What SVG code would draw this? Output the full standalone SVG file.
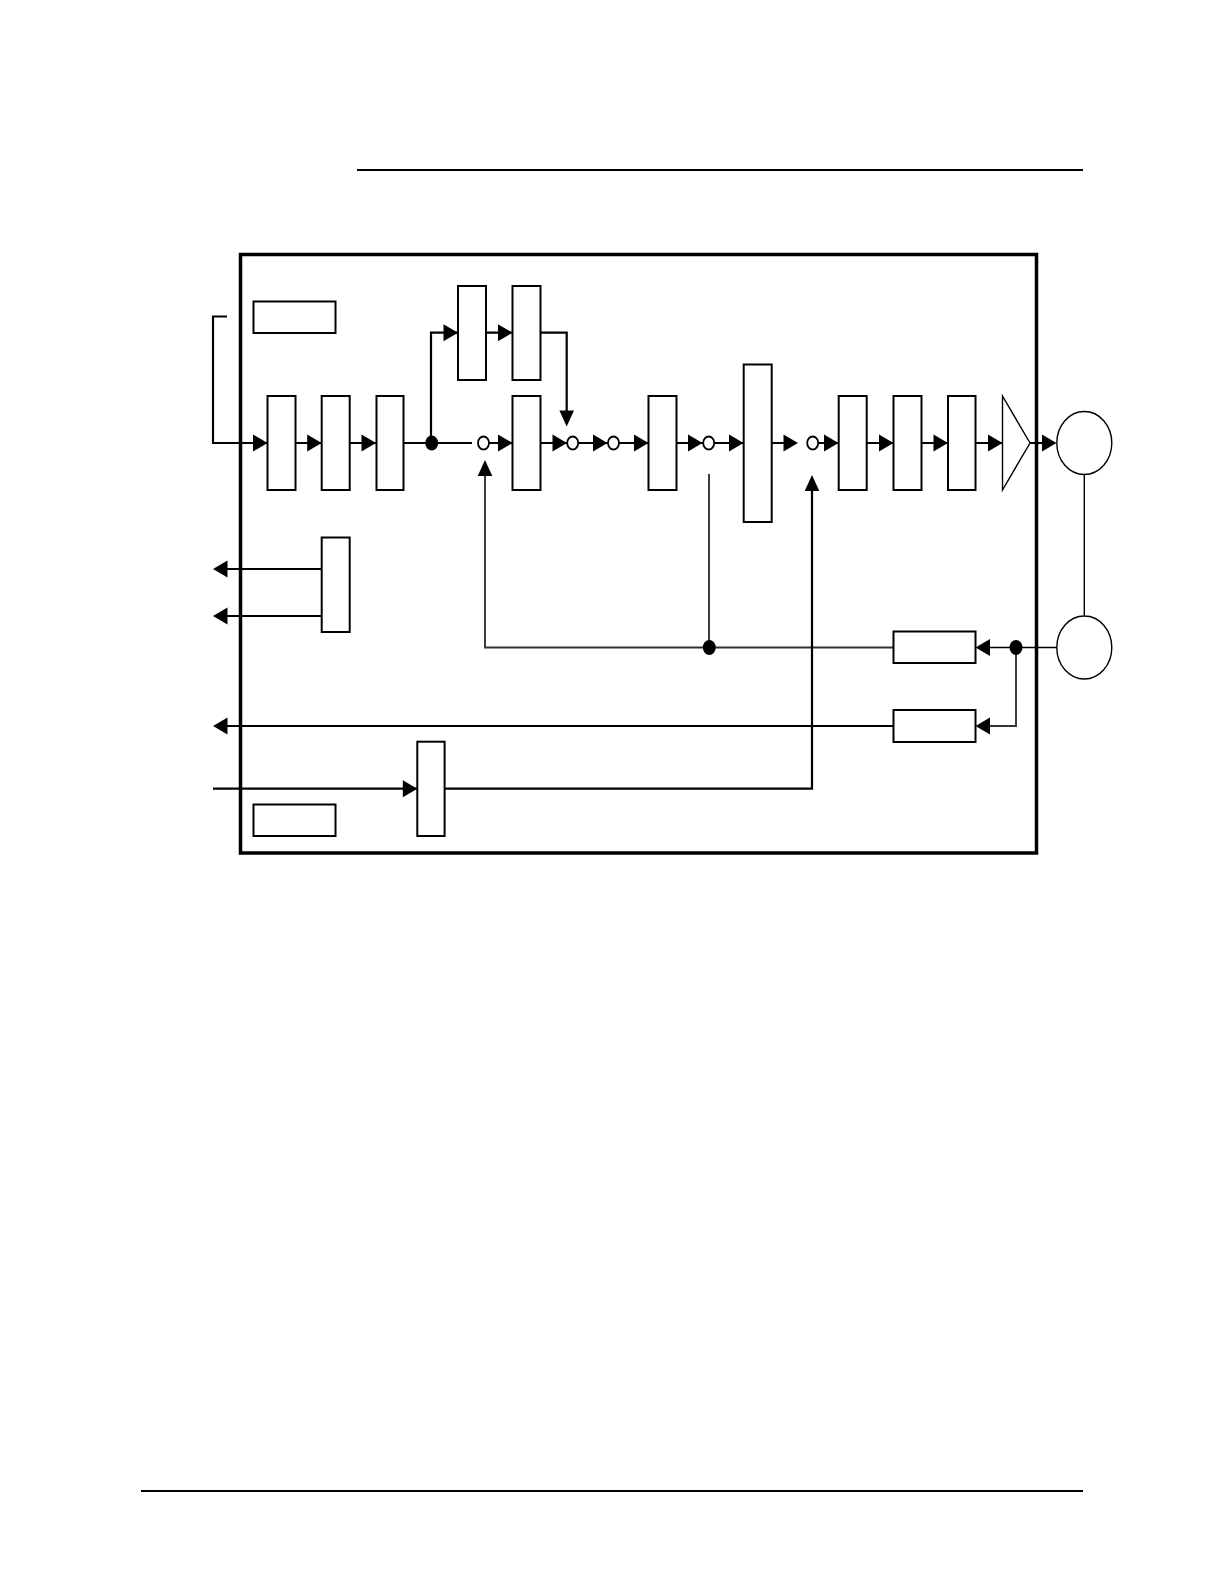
<svg xmlns="http://www.w3.org/2000/svg" width="1224" height="1584" viewBox="0 0 1224 1584">
<style>
.b{fill:#fff;stroke:#000;stroke-width:2}
.w{fill:none;stroke:#000;stroke-width:2.2}
.t{fill:none;stroke:#000;stroke-width:1.4}
.g{fill:none;stroke:#333;stroke-width:1.9}
.c{fill:#fff;stroke:#000;stroke-width:1.8}
.p{fill:#fff;stroke:#000;stroke-width:1.4}
.a{fill:#000}
</style>
<defs>
<path id="ar" class="a" d="M-14.500 -8.500L0 0L-14.500 8.500Z"/>
<path id="av" class="a" d="M-16 -7.300L0 0L-16 7.300Z"/>
</defs>
<rect width="1224" height="1584" fill="#fff"/>
<g id="rules">
<path d="M357 170H1083" stroke="#000" stroke-width="2"/>
<path d="M141 1491H1083" stroke="#000" stroke-width="2.200"/>
</g>
<rect id="frame" x="240.500" y="254.500" width="796" height="598.500" fill="none" stroke="#000" stroke-width="3.500"/>
<g id="connectors">
<path class="w" d="M227 316.500H213V443H267"/>
<path class="w" d="M295 443H322M349 443H377M403 443H472M431 443V332.700H458M485 332.700H513M540 332.700H566.700V412"/>
<path class="w" d="M489 443H513M540 443H567M578 443H608M619 443H648M676 443H703M714 443H744M771 443H790M818 443H839M866 443H894M921 443H948M975 443H1002M1030 443H1046"/>
<path class="t" d="M1084.300 474.500V616"/>
<path class="g" d="M709 474V647.500"/>
<path class="g" d="M485 475V647.500H893"/>
<path class="w" d="M812 489V788.700H444"/>
<path class="w" d="M417 788.700H213"/>
<path class="w" d="M322 569H226M322 616H226"/>
<path class="w" d="M893 726H226"/>
<path class="t" d="M988 647.500H1057"/>
<path class="g" d="M1016 647.500V726H988"/>
<use href="#ar" x="267.500" y="443"/>
<use href="#ar" x="321.700" y="443"/>
<use href="#ar" x="376" y="443"/>
<use href="#ar" x="458" y="332.700"/>
<use href="#ar" x="512.500" y="332.700"/>
<use href="#ar" x="512.500" y="443"/>
<use href="#ar" x="567" y="443"/>
<use href="#ar" x="607.500" y="443"/>
<use href="#ar" x="648.500" y="443"/>
<use href="#ar" x="702.500" y="443"/>
<use href="#ar" x="743.500" y="443"/>
<use href="#ar" x="798" y="443"/>
<use href="#ar" x="838.500" y="443"/>
<use href="#ar" x="893.500" y="443"/>
<use href="#ar" x="948" y="443"/>
<use href="#ar" x="1002.500" y="443"/>
<use href="#ar" x="1056.500" y="443"/>
<use href="#ar" x="417.300" y="788.700"/>
<use href="#av" transform="translate(566.700 426.500) rotate(90)"/>
<use href="#av" transform="translate(485 460) rotate(-90)"/>
<use href="#av" transform="translate(812 475) rotate(-90)"/>
<use href="#ar" transform="translate(213 569) rotate(180)"/>
<use href="#ar" transform="translate(213 616) rotate(180)"/>
<use href="#ar" transform="translate(213 726) rotate(180)"/>
<use href="#ar" transform="translate(975.500 647.500) rotate(180)"/>
<use href="#ar" transform="translate(975.500 726) rotate(180)"/>
</g>
<g id="label-top"><rect class="b" x="253.500" y="301.500" width="82" height="31.500"/></g>
<g id="label-bottom"><rect class="b" x="253.500" y="804.500" width="82" height="31.500"/></g>
<g id="b1"><rect class="b" x="267.500" y="396" width="28" height="94"/></g>
<g id="b2"><rect class="b" x="321.700" y="396" width="28" height="94"/></g>
<g id="b3"><rect class="b" x="376.500" y="396" width="27" height="94"/></g>
<g id="t1"><rect class="b" x="458" y="286" width="28" height="94"/></g>
<g id="t2"><rect class="b" x="512.500" y="286" width="28" height="94"/></g>
<g id="b4"><rect class="b" x="512.500" y="396" width="28" height="94"/></g>
<g id="b5"><rect class="b" x="648.500" y="396" width="28" height="94"/></g>
<g id="b6"><rect class="b" x="743.700" y="364.500" width="28" height="157.500"/></g>
<g id="b7"><rect class="b" x="838.700" y="396" width="28" height="94"/></g>
<g id="b8"><rect class="b" x="893.500" y="396" width="28" height="94"/></g>
<g id="b9"><rect class="b" x="948" y="396" width="27.500" height="94"/></g>
<g id="amp"><path class="p" d="M1002.500 396L1030 443L1002.500 490Z"/></g>
<g id="left-block"><rect class="b" x="321.700" y="537.500" width="28" height="94.500"/></g>
<g id="bottom-block"><rect class="b" x="417.300" y="741.700" width="27.300" height="94.300"/></g>
<g id="rx1"><rect class="b" x="893.500" y="631.500" width="82" height="31.500"/></g>
<g id="rx2"><rect class="b" x="893.500" y="710" width="82" height="32"/></g>
<g id="port-top"><ellipse class="p" cx="1084.300" cy="443" rx="27.500" ry="31.500"/></g>
<g id="port-bottom"><ellipse class="p" cx="1084.300" cy="647.500" rx="27.500" ry="31.500"/></g>
<g id="nodes-small">
<ellipse class="a" cx="431.700" cy="443" rx="6.500" ry="7.500"/>
<ellipse class="a" cx="709.300" cy="647.500" rx="6.500" ry="7.500"/>
<ellipse class="a" cx="1016" cy="647.500" rx="6.500" ry="7.500"/>
<ellipse class="c" cx="483.500" cy="443" rx="5.500" ry="6.500"/>
<ellipse class="c" cx="572.700" cy="443" rx="5.500" ry="6.500"/>
<ellipse class="c" cx="613.500" cy="443" rx="5.500" ry="6.500"/>
<ellipse class="c" cx="708.700" cy="443" rx="5.500" ry="6.500"/>
<ellipse class="c" cx="812.700" cy="443" rx="5.500" ry="6.500"/>
</g>
</svg>
